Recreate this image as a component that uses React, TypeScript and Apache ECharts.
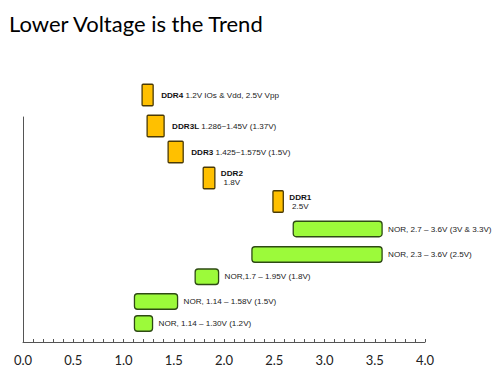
import React, { useEffect, useRef } from "react";
import * as echarts from "echarts";

const titleText = "Lower Voltage is the Trend";
const categories = ["DDR4", "DDR3L", "DDR3", "DDR2", "DDR1", "NOR 2.7-3.6V", "NOR 2.3-3.6V", "NOR 1.7-1.95V", "NOR 1.14-1.58V", "NOR 1.14-1.30V"];
const kinds = ["DDR", "DDR", "DDR", "DDR", "DDR", "NOR", "NOR", "NOR", "NOR", "NOR"];
const startV = [1.185, 1.235, 1.444, 1.793, 2.487, 2.689, 2.278, 1.713, 1.109, 1.109];
const endV = [1.295, 1.404, 1.594, 1.909, 2.59, 3.573, 3.573, 1.946, 1.538, 1.289];
const rowLevel = [9.88, 8.64, 7.6, 6.56, 5.62, 4.52, 3.5, 2.61, 1.62, 0.74];
const labelBold = ["DDR4", "DDR3L", "DDR3", "DDR2", "DDR1", "", "", "", "", ""];
const labelText = [
  "1.2V IOs & Vdd, 2.5V Vpp",
  "1.286~1.45V (1.37V)",
  "1.425~1.575V (1.5V)",
  "1.8V",
  "2.5V",
  "NOR, 2.7 – 3.6V (3V & 3.3V)",
  "NOR, 2.3 – 3.6V (2.5V)",
  "NOR,1.7 – 1.95V (1.8V)",
  "NOR, 1.14 – 1.58V (1.5V)",
  "NOR, 1.14 – 1.30V (1.2V)",
];
const twoLine = [false, false, false, true, true, false, false, false, false, false];

const LABEL_FONT = "'Liberation Sans', Arial, sans-serif";
const LABEL_SIZE = 8.1;

export default function App() {
  const ref = useRef<HTMLDivElement>(null);
  useEffect(() => {
    if (!ref.current) return;
    const chart = echarts.init(ref.current, undefined, { renderer: "svg" });
    const data = categories.map((c, i) => ({ name: c, value: [startV[i], endV[i], rowLevel[i]] }));
    chart.setOption({
      animation: false,
      backgroundColor: "#ffffff",
      title: {
        text: titleText,
        left: 4,
        top: 7,
        textStyle: { fontFamily: "Lato", fontSize: 22, fontWeight: "normal", color: "#000000" },
      },
      grid: { left: 23, right: 75, top: 117, bottom: 34 },
      xAxis: {
        type: "value",
        min: 0,
        max: 4,
        interval: 0.5,
        axisLine: { show: true, lineStyle: { color: "#555555", width: 1 } },
        axisTick: { show: true, inside: true, length: 3, lineStyle: { color: "#555555" } },
        minorTick: { show: true, splitNumber: 5, length: 3, lineStyle: { color: "#555555" } },
        splitLine: { show: false },
        axisLabel: {
          margin: 11,
          fontFamily: "Lato",
          fontSize: 13,
          color: "#222222",
          formatter: (v: number) => v.toFixed(1),
        },
      },
      yAxis: {
        type: "value",
        min: 0,
        max: 9,
        axisLine: { show: true, lineStyle: { color: "#555555", width: 1 } },
        axisTick: { show: false },
        axisLabel: { show: false },
        splitLine: { show: false },
      },
      series: [
        {
          type: "custom",
          clip: false,
          data,
          renderItem: (params: any, api: any) => {
            const i = params.dataIndex;
            const lvl = api.value(2);
            const p0 = api.coord([api.value(0), lvl]);
            const p1 = api.coord([api.value(1), lvl]);
            const isDDR = kinds[i] === "DDR";
            const h = isDDR ? 21.5 : 15.5;
            const rect = {
              type: "rect",
              shape: { x: p0[0], y: p0[1] - h / 2, width: p1[0] - p0[0], height: h, r: isDDR ? 1 : 3 },
              style: {
                fill: isDDR ? "#FFC000" : "#9CFA3A",
                stroke: isDDR ? "#4A3A05" : "#2E4A14",
                lineWidth: 1.3,
              },
            };
            let txt: string;
            if (labelBold[i]) {
              txt = twoLine[i] ? `{b|${labelBold[i]}}\n{n|${labelText[i]}}` : `{b|${labelBold[i]}} {n|${labelText[i]}}`;
            } else {
              txt = `{n|${labelText[i]}}`;
            }
            const gap = isDDR ? (twoLine[i] ? 6 : 8) : 6;
            const label = {
              type: "text",
              x: p1[0] + gap,
              y: p0[1],
              style: {
                text: txt,
                align: "left",
                verticalAlign: "middle",
                fill: "#222222",
                fontFamily: LABEL_FONT,
                fontSize: LABEL_SIZE,
                rich: {
                  b: { fontWeight: "bold", fontFamily: LABEL_FONT, fontSize: LABEL_SIZE, fill: "#111111", lineHeight: 9, align: twoLine[i] ? "center" : "left" },
                  n: { fontFamily: LABEL_FONT, fontSize: LABEL_SIZE, fill: "#222222", lineHeight: 9, align: twoLine[i] ? "center" : "left" },
                },
              },
            };
            return { type: "group", children: [rect, label] };
          },
        },
      ],
    });
    return () => chart.dispose();
  }, []);
  return <div ref={ref} style={{ width: 500, height: 376, margin: -8 }} />;
}
